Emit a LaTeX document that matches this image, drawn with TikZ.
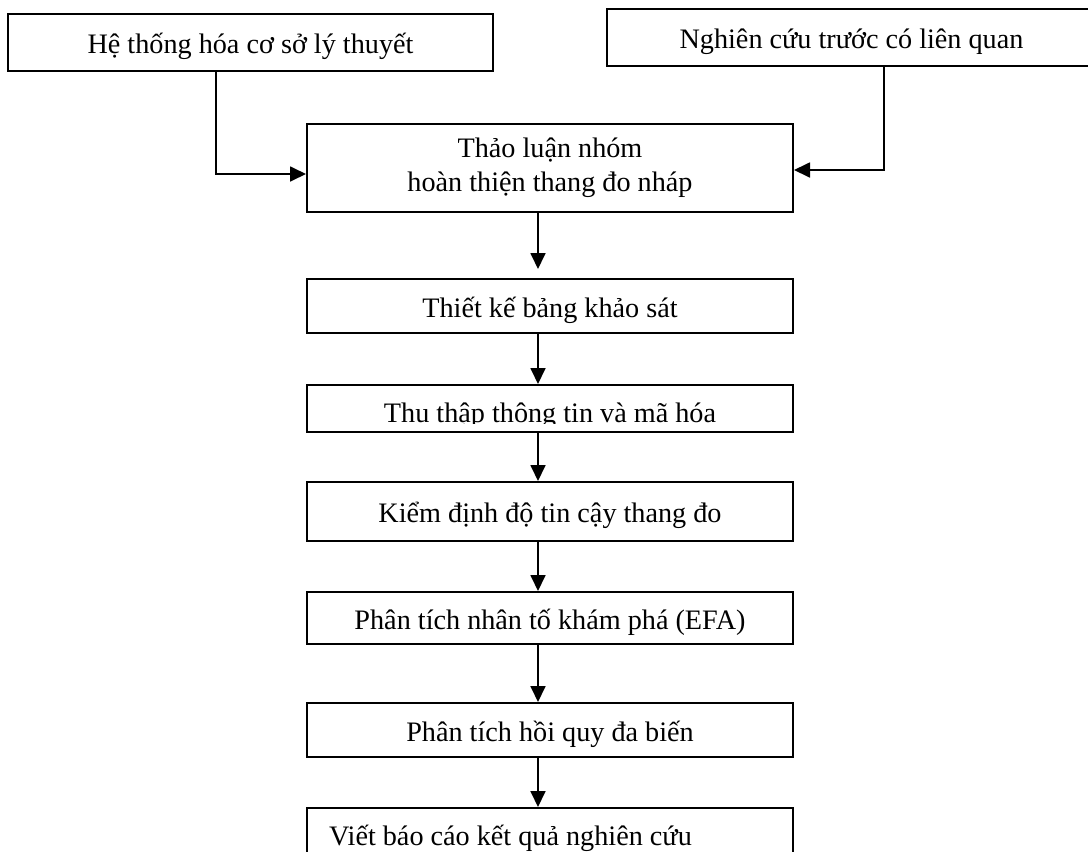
\documentclass[tikz,border=0pt]{standalone}
\usepackage{fontspec}
\setmainfont{Liberation Serif}
\usetikzlibrary{positioning}
\usetikzlibrary{arrows.meta}

\begin{document}
\begin{tikzpicture}[x=0.5pt, y=-0.5pt,
        box/.style={draw, line width=1pt, minimum width=243pt, inner sep=0pt,
            font=\fontsize{14.1}{17}\selectfont},
        stage/.style={box, text height=11pt, text depth=0pt},
        flow/.style={line width=0.9pt, -{Triangle[length=8pt, width=7.5pt]}}]
    \useasboundingbox (0,0) rectangle (1088,852);

    % Top boxes
    \node[stage, minimum width=242.5pt, minimum height=28.5pt] (lit) at (250.5,42.5) {Hệ thống hóa cơ sở lý thuyết};
    \node[stage, minimum width=245pt, minimum height=28.5pt] (prior) at (851.5,37.5) {Nghiên cứu trước có liên quan};

    % Main column
    \node[box, minimum height=44pt, align=center] (discuss) at (550,168) {Thảo luận nhóm\\hoàn thiện thang đo nháp};
    \node[stage, minimum height=27pt] (design) at (550,306) {Thiết kế bảng khảo sát};
    \node[box, minimum height=23.5pt] (collect) at (550,408.5) {};
    \begin{scope}
        \clip (collect.north west) rectangle ([yshift=5pt]collect.south east);
        \node[stage, draw=none, yshift=-1.25pt] (collecttext) at (collect) {Thu thập thông tin và mã hóa};
    \end{scope}
    \node[stage, minimum height=29.5pt] (reliab) at (550,511.5) {Kiểm định độ tin cậy thang đo};
    \node[stage, minimum height=26pt] (efa) at (550,618) {Phân tích nhân tố khám phá (EFA)};
    \node[stage, minimum height=27pt] (regress) at (550,730) {Phân tích hồi quy đa biến};
    \node[stage, minimum height=26pt, text width=221pt, inner xsep=11pt, align=flush left] (report) at (550,834) {Viết báo cáo kết quả nghiên cứu};

    % Connectors
    \draw[flow] ([xshift=-17.25pt]lit.south) |- ([yshift=-3pt]discuss.west);
    \draw[flow] ([xshift=16.25pt]prior.south) |- ([yshift=-1pt]discuss.east);
    \draw[flow, shorten >=4.5pt] ([xshift=-6pt]discuss.south) -- ([xshift=-6pt]design.north);
    \foreach \a/\b in {design/collect, collect/reliab, reliab/efa, efa/regress, regress/report}
        \draw[flow] ([xshift=-6pt]\a.south) -- ([xshift=-6pt]\b.north);
\end{tikzpicture}
\end{document}
